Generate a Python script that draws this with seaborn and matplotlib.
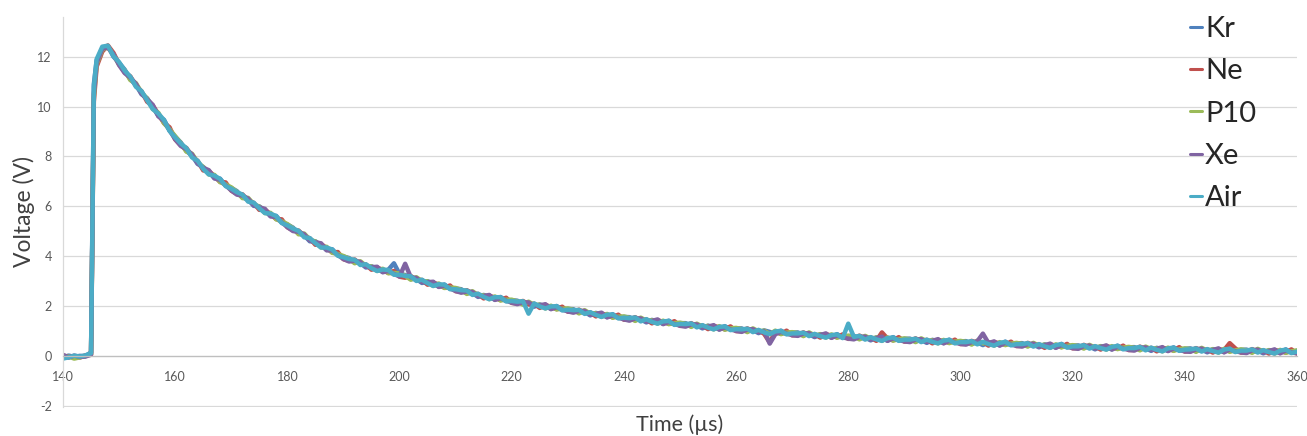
import numpy as np
import pandas as pd
import matplotlib
matplotlib.use("Agg")
import matplotlib.pyplot as plt
import seaborn as sns
from matplotlib.ticker import MultipleLocator

# ---------------- data ----------------
time_us = [140, 141, 142, 143, 144, 145, 145.5] + list(range(146, 361))

kr = [-0.05, 0.02, -0.03, 0.01, 0.00, 0.15,
      10.9,
      11.85, 12.30, 12.42, 12.00, 11.75,
      11.48, 11.09, 10.87, 10.49, 10.33, 9.99, 9.62, 9.47, 9.04, 8.79,
      8.56, 8.22, 8.04, 7.70, 7.58, 7.37, 7.13, 7.11, 6.83, 6.74,
      6.61, 6.36, 6.27, 6.02, 6.00, 5.82, 5.61, 5.62, 5.35, 5.27,
      5.15, 4.91, 4.84, 4.60, 4.60, 4.44, 4.25, 4.28, 4.04, 3.99,
      3.93, 3.75, 3.73, 3.55, 3.60, 3.50, 3.37, 3.46, 3.72, 3.29,
      3.25, 3.09, 3.09, 2.93, 3.00, 2.90, 2.78, 2.87, 2.70, 2.71,
      2.68, 2.52, 2.53, 2.37, 2.45, 2.37, 2.26, 2.37, 2.21, 2.24,
      2.22, 2.09, 2.11, 1.98, 2.07, 2.00, 1.89, 2.01, 1.85, 1.89,
      1.88, 1.74, 1.77, 1.63, 1.73, 1.66, 1.56, 1.68, 1.53, 1.57,
      1.56, 1.44, 1.47, 1.35, 1.45, 1.39, 1.29, 1.42, 1.27, 1.32,
      1.32, 1.20, 1.23, 1.11, 1.22, 1.16, 1.07, 1.20, 1.06, 1.11,
      1.11, 0.99, 1.04, 0.92, 1.03, 0.97, 0.89, 1.02, 0.89, 0.94,
      0.95, 0.83, 0.88, 0.76, 0.88, 0.83, 0.74, 0.88, 0.74, 0.80,
      0.81, 0.70, 0.74, 0.63, 0.75, 0.70, 0.62, 0.76, 0.63, 0.69,
      0.70, 0.59, 0.64, 0.53, 0.65, 0.60, 0.52, 0.66, 0.53, 0.59,
      0.60, 0.49, 0.55, 0.44, 0.56, 0.51, 0.43, 0.58, 0.45, 0.51,
      0.52, 0.41, 0.46, 0.35, 0.47, 0.42, 0.34, 0.49, 0.36, 0.42,
      0.43, 0.33, 0.38, 0.27, 0.40, 0.35, 0.27, 0.42, 0.29, 0.35,
      0.36, 0.26, 0.31, 0.21, 0.33, 0.28, 0.21, 0.35, 0.23, 0.29,
      0.31, 0.20, 0.26, 0.15, 0.28, 0.23, 0.16, 0.31, 0.18, 0.25,
      0.26, 0.16, 0.22, 0.11, 0.24, 0.19, 0.12, 0.27, 0.14, 0.21]

ne = [0.03, -0.04, 0.00, -0.06, 0.03, 0.05,
      10.2,
      11.60, 12.20, 12.45, 12.15, 11.70,
      11.37, 11.21, 10.83, 10.61, 10.19, 10.04, 9.70, 9.34, 9.17, 8.68,
      8.45, 8.34, 8.00, 7.82, 7.44, 7.42, 7.21, 6.98, 6.96, 6.63,
      6.50, 6.48, 6.23, 6.14, 5.86, 5.87, 5.69, 5.49, 5.48, 5.16,
      5.04, 5.03, 4.80, 4.72, 4.46, 4.49, 4.33, 4.15, 4.17, 3.88,
      3.82, 3.87, 3.69, 3.67, 3.46, 3.55, 3.45, 3.33, 3.41, 3.18,
      3.14, 3.21, 3.05, 3.05, 2.86, 2.95, 2.86, 2.74, 2.83, 2.60,
      2.57, 2.64, 2.49, 2.49, 2.31, 2.42, 2.34, 2.24, 2.34, 2.13,
      2.11, 2.21, 2.07, 2.10, 1.93, 2.05, 1.97, 1.88, 1.98, 1.78,
      1.77, 1.86, 1.73, 1.75, 1.59, 1.71, 1.64, 1.55, 1.66, 1.46,
      1.45, 1.56, 1.43, 1.47, 1.31, 1.44, 1.37, 1.29, 1.40, 1.21,
      1.21, 1.32, 1.19, 1.23, 1.08, 1.21, 1.15, 1.07, 1.19, 1.00,
      1.00, 1.11, 1.00, 1.04, 0.89, 0.55, 0.97, 0.89, 1.02, 0.83,
      0.84, 0.95, 0.84, 0.88, 0.74, 0.88, 0.82, 0.75, 0.87, 0.69,
      0.70, 0.82, 0.70, 0.75, 0.61, 0.95, 0.70, 0.63, 0.76, 0.58,
      0.59, 0.71, 0.60, 0.65, 0.51, 0.65, 0.60, 0.53, 0.66, 0.48,
      0.49, 0.61, 0.51, 0.56, 0.42, 0.56, 0.51, 0.45, 0.58, 0.40,
      0.41, 0.53, 0.42, 0.47, 0.33, 0.47, 0.42, 0.36, 0.49, 0.31,
      0.32, 0.45, 0.34, 0.39, 0.26, 0.40, 0.35, 0.29, 0.42, 0.24,
      0.25, 0.38, 0.27, 0.33, 0.19, 0.33, 0.29, 0.22, 0.36, 0.18,
      0.20, 0.32, 0.22, 0.27, 0.14, 0.28, 0.24, 0.52, 0.31, 0.14,
      0.15, 0.28, 0.18, 0.23, 0.10, 0.24, 0.20, 0.14, 0.27, 0.10]

p10 = [-0.08, -0.02, -0.10, -0.05, 0.00, 0.08,
       10.4,
       11.70, 12.28, 12.38, 12.08, 11.68,
       11.45, 11.06, 10.94, 10.56, 10.32, 9.90, 9.75, 9.33, 9.09, 8.81,
       8.53, 8.19, 8.11, 7.77, 7.57, 7.28, 7.26, 6.97, 6.88, 6.76,
       6.58, 6.33, 6.34, 6.09, 5.99, 5.73, 5.74, 5.48, 5.40, 5.29,
       5.12, 4.88, 4.91, 4.67, 4.59, 4.35, 4.38, 4.14, 4.09, 4.01,
       3.90, 3.72, 3.80, 3.62, 3.59, 3.41, 3.50, 3.32, 3.33, 3.31,
       3.22, 3.06, 3.16, 3.00, 2.99, 2.81, 2.91, 2.73, 2.75, 2.73,
       2.65, 2.49, 2.60, 2.44, 2.44, 2.28, 2.39, 2.23, 2.26, 2.26,
       2.19, 2.06, 2.18, 2.05, 2.06, 1.91, 2.02, 1.87, 1.90, 1.91,
       1.85, 1.71, 1.84, 1.70, 1.72, 1.57, 1.69, 1.54, 1.58, 1.59,
       1.53, 1.41, 1.54, 1.42, 1.44, 1.30, 1.42, 1.28, 1.32, 1.34,
       1.29, 1.17, 1.30, 1.18, 1.21, 1.07, 1.20, 1.06, 1.11, 1.13,
       1.08, 0.96, 1.11, 0.99, 1.02, 0.88, 1.02, 0.88, 0.94, 0.96,
       0.92, 0.80, 0.95, 0.83, 0.87, 0.74, 0.87, 0.74, 0.79, 0.82,
       0.78, 0.67, 0.81, 0.70, 0.74, 0.61, 0.75, 0.62, 0.68, 0.71,
       0.67, 0.56, 0.71, 0.60, 0.64, 0.51, 0.65, 0.52, 0.58, 0.61,
       0.57, 0.46, 0.62, 0.51, 0.55, 0.42, 0.56, 0.44, 0.50, 0.53,
       0.49, 0.38, 0.53, 0.42, 0.46, 0.33, 0.47, 0.35, 0.41, 0.44,
       0.40, 0.30, 0.45, 0.34, 0.39, 0.26, 0.40, 0.28, 0.34, 0.37,
       0.33, 0.23, 0.38, 0.28, 0.32, 0.19, 0.34, 0.21, 0.28, 0.31,
       0.28, 0.17, 0.33, 0.22, 0.27, 0.14, 0.29, 0.17, 0.23, 0.27,
       0.23, 0.13, 0.29, 0.18, 0.23, 0.10, 0.25, 0.13, 0.19, 0.23]

xe = [0.05, -0.06, 0.02, -0.03, -0.02, 0.06,
      10.5,
      11.75, 12.32, 12.36, 12.10, 11.66,
      11.34, 11.16, 10.91, 10.52, 10.29, 10.07, 9.61, 9.42, 9.05, 8.69,
      8.42, 8.29, 8.08, 7.73, 7.54, 7.45, 7.12, 7.06, 6.84, 6.64,
      6.47, 6.43, 6.31, 6.05, 5.96, 5.90, 5.60, 5.57, 5.36, 5.17,
      5.01, 4.98, 4.88, 4.63, 4.56, 4.52, 4.24, 4.23, 4.05, 3.89,
      3.79, 3.82, 3.77, 3.58, 3.56, 3.58, 3.36, 3.41, 3.29, 3.19,
      3.70, 3.16, 3.13, 2.96, 2.96, 2.98, 2.77, 2.82, 2.71, 2.61,
      2.54, 2.59, 2.57, 2.40, 2.41, 2.45, 2.25, 2.32, 2.22, 2.14,
      2.08, 2.16, 2.15, 2.01, 2.03, 2.08, 1.88, 1.96, 1.86, 1.79,
      1.74, 1.81, 1.81, 1.66, 1.69, 1.74, 1.55, 1.63, 1.54, 1.47,
      1.42, 1.51, 1.51, 1.38, 1.41, 1.47, 1.28, 1.37, 1.28, 1.22,
      1.18, 1.27, 1.27, 1.14, 1.18, 1.24, 1.06, 1.15, 1.07, 1.01,
      0.97, 1.06, 1.08, 0.95, 0.99, 0.50, 0.88, 0.97, 0.90, 0.84,
      0.81, 0.90, 0.92, 0.79, 0.84, 0.91, 0.73, 0.83, 0.75, 0.70,
      0.67, 0.77, 0.78, 0.66, 0.71, 0.78, 0.61, 0.71, 0.64, 0.59,
      0.56, 0.66, 0.68, 0.56, 0.61, 0.68, 0.51, 0.61, 0.54, 0.49,
      0.46, 0.56, 0.59, 0.90, 0.52, 0.59, 0.42, 0.53, 0.46, 0.41,
      0.38, 0.48, 0.50, 0.38, 0.43, 0.50, 0.33, 0.44, 0.37, 0.32,
      0.29, 0.40, 0.42, 0.30, 0.36, 0.43, 0.26, 0.37, 0.30, 0.25,
      0.22, 0.33, 0.35, 0.24, 0.29, 0.36, 0.20, 0.30, 0.24, 0.19,
      0.17, 0.27, 0.30, 0.18, 0.24, 0.31, 0.15, 0.26, 0.19, 0.15,
      0.12, 0.23, 0.26, 0.14, 0.20, 0.27, 0.11, 0.22, 0.15, 0.11]

air = [-0.10, -0.05, 0.02, -0.02, 0.03, 0.12,
       10.8,
       11.90, 12.40, 12.44, 12.02, 11.78,
       11.44, 11.20, 10.79, 10.62, 10.25, 9.90, 9.72, 9.46, 9.02, 8.76,
       8.52, 8.33, 7.96, 7.83, 7.50, 7.28, 7.23, 7.10, 6.81, 6.71,
       6.57, 6.47, 6.19, 6.15, 5.92, 5.73, 5.71, 5.61, 5.33, 5.24,
       5.11, 5.02, 4.76, 4.73, 4.52, 4.35, 4.35, 4.27, 4.02, 3.96,
       3.89, 3.86, 3.65, 3.68, 3.52, 3.41, 3.47, 3.45, 3.26, 3.26,
       3.21, 3.20, 3.01, 3.06, 2.92, 2.81, 2.88, 2.86, 2.68, 2.68,
       2.64, 2.63, 2.45, 2.50, 2.37, 2.28, 2.36, 2.36, 2.19, 2.21,
       2.18, 2.20, 1.70, 2.11, 1.99, 1.91, 1.99, 2.00, 1.83, 1.86,
       1.84, 1.85, 1.69, 1.76, 1.65, 1.57, 1.66, 1.67, 1.51, 1.54,
       1.52, 1.55, 1.39, 1.48, 1.37, 1.30, 1.39, 1.41, 1.25, 1.29,
       1.28, 1.31, 1.15, 1.24, 1.14, 1.07, 1.17, 1.19, 1.04, 1.08,
       1.07, 1.10, 0.96, 1.05, 0.95, 0.88, 0.99, 1.01, 0.87, 0.91,
       0.91, 0.94, 0.80, 0.89, 0.80, 0.74, 0.84, 0.87, 0.72, 1.30,
       0.77, 0.81, 0.66, 0.76, 0.67, 0.61, 0.72, 0.75, 0.61, 0.66,
       0.66, 0.70, 0.56, 0.66, 0.57, 0.51, 0.62, 0.65, 0.51, 0.56,
       0.56, 0.60, 0.47, 0.57, 0.48, 0.42, 0.53, 0.57, 0.43, 0.48,
       0.48, 0.52, 0.38, 0.48, 0.39, 0.33, 0.44, 0.48, 0.34, 0.39,
       0.39, 0.44, 0.30, 0.40, 0.32, 0.26, 0.37, 0.41, 0.27, 0.32,
       0.32, 0.37, 0.23, 0.34, 0.25, 0.19, 0.31, 0.34, 0.21, 0.26,
       0.27, 0.31, 0.18, 0.28, 0.20, 0.14, 0.26, 0.30, 0.16, 0.22,
       0.22, 0.27, 0.14, 0.24, 0.16, 0.10, 0.22, 0.26, 0.12, 0.18]

series_names = ["Kr", "Ne", "P10", "Xe", "Air"]
series_colors = ["#4F81BD", "#C0504D", "#9BBB59", "#8064A2", "#4BACC6"]
x_ticks = [140, 160, 180, 200, 220, 240, 260, 280, 300, 320, 340, 360]
y_ticks = [-2, 0, 2, 4, 6, 8, 10, 12]

# ---------------- build long-form table ----------------
frames = []
for name, vals in zip(series_names, [kr, ne, p10, xe, air]):
    frames.append(pd.DataFrame({"Time": time_us, "Voltage": vals, "Gas": name}))
df = pd.concat(frames, ignore_index=True)

sns.set_style("white")
plt.rcParams["font.family"] = ["Lato", "DejaVu Sans"]
plt.rcParams["axes.unicode_minus"] = False

W, H = 1307, 436
fig = plt.figure(figsize=(W / 100, H / 100), dpi=100)
ax_left, ax_right, ax_top, ax_bottom = 63, 1297, 16.7, 407
ax = fig.add_axes([ax_left / W, 1 - ax_bottom / H,
                   (ax_right - ax_left) / W, (ax_bottom - ax_top) / H])

sns.lineplot(data=df, x="Time", y="Voltage", hue="Gas", hue_order=series_names,
             palette=dict(zip(series_names, series_colors)), estimator=None,
             sort=False, linewidth=3.2, ax=ax)

ax.set_xlim(140, 360)
ax.set_ylim(-2.04, 13.6)
ax.set_xticks(x_ticks)
ax.set_yticks(y_ticks)
ax.xaxis.set_minor_locator(MultipleLocator(2))

ax.grid(axis="y", color="#d9d9d9", linewidth=0.9)
ax.grid(axis="x", visible=False)
ax.set_axisbelow(True)

for s in ["top", "right"]:
    ax.spines[s].set_visible(False)
ax.spines["bottom"].set_position(("data", 0))
ax.spines["bottom"].set_color("#bfbfbf")
ax.spines["bottom"].set_linewidth(0.9)
ax.spines["left"].set_color("#d9d9d9")
ax.spines["left"].set_linewidth(0.9)

ax.tick_params(axis="y", length=0, labelsize=9, labelcolor="#595959", pad=8)
ax.tick_params(axis="x", which="major", direction="inout", length=4, width=0.8,
               color="#bfbfbf", labelsize=9, labelcolor="#595959", pad=9)
ax.tick_params(axis="x", which="minor", direction="inout", length=4, width=0.8,
               color="#d0d0d0")

ax.set_xlabel("Time (µs)", fontsize=15.5, color="#404040")
ax.set_ylabel("Voltage (V)", fontsize=16.5, color="#404040")
ax.xaxis.set_label_coords(0.5, -0.02)
ax.yaxis.set_label_coords(-0.0227, 0.5)

handles, labels = ax.get_legend_handles_labels()
leg = ax.legend(handles, labels, loc="upper left",
                bbox_to_anchor=(1190 / W, 1 - 16 / H), bbox_transform=fig.transFigure,
                frameon=False, fontsize=21, handlelength=0.42, handletextpad=0.1,
                labelspacing=0.56, borderpad=0, borderaxespad=0)
for line in leg.get_lines():
    line.set_linewidth(2.2)
for t in leg.get_texts():
    t.set_color("#262626")

fig.savefig("out.png", dpi=100)
